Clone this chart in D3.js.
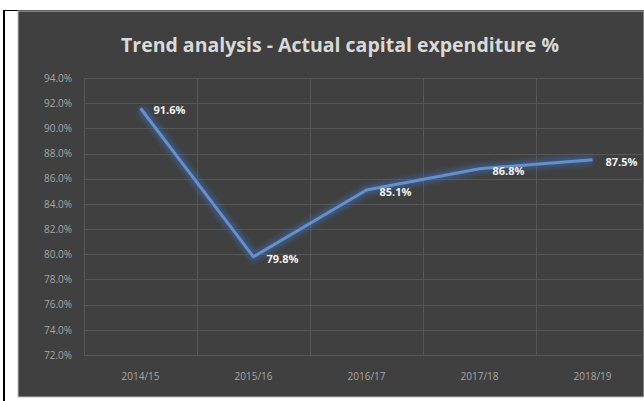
<!DOCTYPE html>
<html>
<head>
<meta charset="utf-8">
<script src="https://cdn.jsdelivr.net/npm/d3@7"></script>
<style>
  body { margin: 0; background: #fff; }
  svg { display: block; font-family: "Open Sans", "Liberation Sans", sans-serif; }
</style>
</head>
<body>
<script>
// data
var years = ['2014/15', '2015/16', '2016/17', '2017/18', '2018/19'];
var capexPct = [91.6, 79.8, 85.1, 86.8, 87.5];
var yTicks = [72, 74, 76, 78, 80, 82, 84, 86, 88, 90, 92, 94];

var width = 644;
var height = 401;

var canvas = d3.select('body')
    .append('svg')
    .attr('width', width)
    .attr('height', height)

// frame
canvas.append('rect')
    .attr('x', 3).attr('y', 10)
    .attr('width', 2).attr('height', height - 10)
    .attr('fill', '#000')
canvas.append('rect')
    .attr('x', 3).attr('y', 10)
    .attr('width', width - 3).attr('height', 1)
    .attr('fill', '#000')

// chart background
canvas.append('rect')
    .attr('x', 18).attr('y', 11)
    .attr('width', width - 18).attr('height', 386)
    .attr('fill', '#404040')
    .attr('stroke', '#bfbfbf')
    .attr('stroke-width', 1)

var xScale = d3.scaleBand()
    .domain(years)
    .range([84, 649])

var yScale = d3.scaleLinear()
    .domain([72, 94])
    .range([355, 78])

// glow filter
var defs = canvas.append('defs');
var glow = defs.append('filter').attr('id', 'glow')
    .attr('x', '-20%').attr('y', '-20%').attr('width', '140%').attr('height', '140%');
glow.append('feGaussianBlur').attr('stdDeviation', 2.5);

// grid
canvas.append('g')
    .selectAll('line')
    .data(yTicks)
    .enter()
    .append('line')
    .attr('x1', 84)
    .attr('x2', width)
    .attr('y1', function (d) { return Math.round(yScale(d)) + 0.5; })
    .attr('y2', function (d) { return Math.round(yScale(d)) + 0.5; })
    .attr('stroke', '#575757')
    .attr('stroke-width', 1)

canvas.append('g')
    .selectAll('line')
    .data(years)
    .enter()
    .append('line')
    .attr('x1', function (d) { return Math.round(xScale(d)) + 0.5; })
    .attr('x2', function (d) { return Math.round(xScale(d)) + 0.5; })
    .attr('y1', yScale(94))
    .attr('y2', yScale(72))
    .attr('stroke', '#575757')
    .attr('stroke-width', 1)

// axes
var axisL = d3.axisLeft(yScale)
    .tickValues(yTicks)
    .tickSize(0)
    .tickPadding(12)
    .tickFormat(function (d) { return d.toFixed(1) + '%'; })

var axisB = d3.axisBottom(xScale)
    .tickSize(0)
    .tickPadding(18)

var gL = canvas.append('g')
    .attr('transform', 'translate(84,0)')
    .call(axisL)
gL.select('.domain').remove()
gL.selectAll('text')
    .attr('fill', '#a6a6a6')
    .attr('font-size', 10)
    .attr('font-family', '"Open Sans", sans-serif')

var gB = canvas.append('g')
    .attr('transform', 'translate(0,' + yScale(72) + ')')
    .call(axisB)
gB.select('.domain').remove()
gB.selectAll('text')
    .attr('fill', '#a6a6a6')
    .attr('font-size', 10)
    .attr('font-family', '"Open Sans", sans-serif')

// title
canvas.append('text')
    .text('Trend analysis - Actual capital expenditure %')
    .attr('x', 340)
    .attr('y', 52)
    .attr('text-anchor', 'middle')
    .attr('fill', '#d9d9d9')
    .attr('font-size', 19.5)
    .attr('font-weight', 'bold')

// line
var line = d3.line()
    .x(function (d, i) { return xScale(years[i]) + xScale.bandwidth() / 2; })
    .y(function (d) { return yScale(d); })

canvas.append('path')
    .datum(capexPct)
    .attr('d', line)
    .attr('fill', 'none')
    .attr('stroke', '#3a67a6')
    .attr('stroke-width', 9)
    .attr('stroke-opacity', 0.6)
    .attr('filter', 'url(#glow)')

canvas.append('path')
    .datum(capexPct)
    .attr('d', line)
    .attr('fill', 'none')
    .attr('stroke', '#6590cb')
    .attr('stroke-width', 3)
    .attr('stroke-linejoin', 'round')

// labels
canvas.append('g')
    .selectAll('text')
    .data(capexPct)
    .enter()
    .append('text')
    .attr('x', function (d, i) { return xScale(years[i]) + xScale.bandwidth() / 2 + 13; })
    .attr('y', function (d) { return yScale(d) + 6; })
    .attr('fill', '#f2f2f2')
    .attr('font-size', 11)
    .attr('font-weight', 'bold')
    .text(function (d) { return d.toFixed(1) + '%'; })
</script>
</body>
</html>
